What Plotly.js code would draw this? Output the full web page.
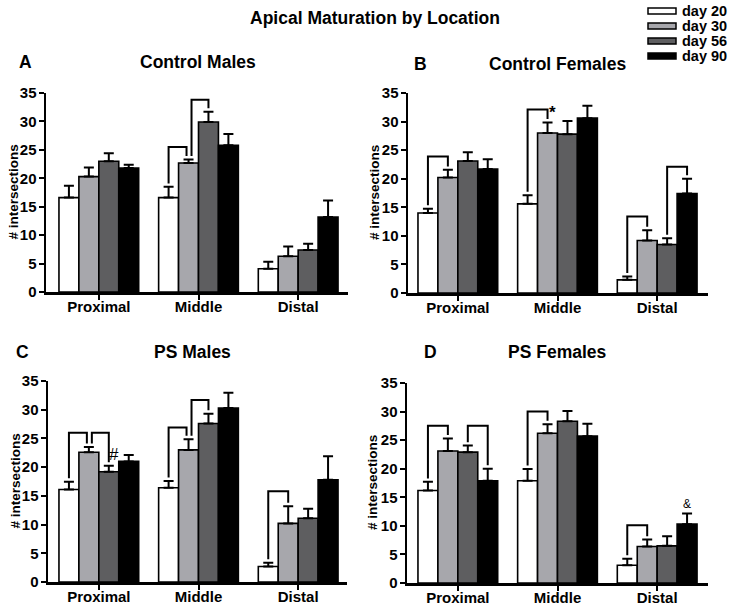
<!DOCTYPE html>
<html>
<head>
<meta charset="utf-8">
<script src="https://cdn.plot.ly/plotly-3.0.1.min.js"></script>
<style>html,body{margin:0;padding:0;background:#fff;}#chart{width:729px;height:607px;}</style>
</head>
<body>
<div id="chart"></div>
<script>
// ---- data ----
const categories = ['Proximal', 'Middle', 'Distal'];
const seriesNames = ['day 20', 'day 30', 'day 56', 'day 90'];
const seriesColors = ['#ffffff', '#a7a7ac', '#5e5e60', '#000000'];
const yTicks = [0, 5, 10, 15, 20, 25, 30, 35];
const yTitle = '# intersections';

// A: Control Males
const cmDay20 = [16.6, 16.6, 4.1];   const cmDay20Err = [2.1, 1.9, 1.2];
const cmDay30 = [20.3, 22.7, 6.3];   const cmDay30Err = [1.6, 0.6, 1.7];
const cmDay56 = [23.0, 29.9, 7.4];   const cmDay56Err = [1.4, 1.8, 1.1];
const cmDay90 = [21.8, 25.8, 13.2];  const cmDay90Err = [0.6, 2.0, 2.9];
// B: Control Females
const cfDay20 = [14.0, 15.6, 2.3];   const cfDay20Err = [0.75, 1.5, 0.6];
const cfDay30 = [20.2, 28.0, 9.2];   const cfDay30Err = [1.35, 1.85, 1.8];
const cfDay56 = [23.1, 27.8, 8.5];   const cfDay56Err = [1.55, 2.3, 1.1];
const cfDay90 = [21.7, 30.6, 17.4];  const cfDay90Err = [1.7, 2.15, 2.6];
// C: PS Males
const pmDay20 = [16.1, 16.4, 2.7];   const pmDay20Err = [1.35, 1.2, 0.65];
const pmDay30 = [22.6, 23.0, 10.2];  const pmDay30Err = [0.9, 1.85, 3.0];
const pmDay56 = [19.2, 27.6, 11.1];  const pmDay56Err = [1.05, 1.7, 1.65];
const pmDay90 = [21.0, 30.3, 17.8];  const pmDay90Err = [1.1, 2.65, 4.1];
// D: PS Females
const pfDay20 = [16.2, 17.9, 3.1];   const pfDay20Err = [1.5, 2.05, 1.15];
const pfDay30 = [23.1, 26.2, 6.4];   const pfDay30Err = [2.2, 1.6, 1.2];
const pfDay56 = [22.9, 28.3, 6.5];   const pfDay56Err = [1.15, 1.8, 1.7];
const pfDay90 = [17.9, 25.7, 10.3];  const pfDay90Err = [2.1, 2.15, 1.85];

// significance brackets: [category, from series, to series, bracket top]
const bracketsA = [['Middle', 0, 1, 25.5], ['Middle', 1, 2, 33.8]];
const bracketsB = [['Proximal', 0, 1, 23.9], ['Middle', 0, 1, 32.1], ['Distal', 0, 1, 13.4], ['Distal', 2, 3, 22.1]];
const bracketsC = [['Proximal', 0, 1, 26.0], ['Proximal', 1, 2, 26.0], ['Middle', 0, 1, 26.9], ['Middle', 1, 2, 31.7], ['Distal', 0, 1, 15.8]];
const bracketsD = [['Proximal', 0, 1, 27.5], ['Proximal', 2, 3, 27.5], ['Middle', 0, 1, 30.0], ['Distal', 0, 1, 10.1]];
// markers: [category, series, symbol]
const marksB = [['Middle', 1, '*']];
const marksC = [['Proximal', 2, '#']];
const marksD = [['Distal', 3, '&']];

const panelTitles = ['Control Males', 'Control Females', 'PS Males', 'PS Females'];
const panelLetters = ['A', 'B', 'C', 'D'];

// ---- layout geometry (pixels) ----
const W = 729, H = 607;
const FONT = 'Liberation Sans, Arial, Helvetica, sans-serif';
const px = x => x / W;
const py = y => 1 - y / H;

const panels = [
  {vals: [cmDay20, cmDay30, cmDay56, cmDay90], errs: [cmDay20Err, cmDay30Err, cmDay56Err, cmDay90Err], br: bracketsA, marks: [],
   x0: 46, x1: 348, yb: 292, yt: 93, xr: [-0.53, 2.5], tx: 198, ty: 62, lx: 25, ytx: 13},
  {vals: [cfDay20, cfDay30, cfDay56, cfDay90], errs: [cfDay20Err, cfDay30Err, cfDay56Err, cfDay90Err], br: bracketsB, marks: marksB,
   x0: 408, x1: 708, yb: 293, yt: 93, xr: [-0.5, 2.51], tx: 557, ty: 64, lx: 420, ytx: 374},
  {vals: [pmDay20, pmDay30, pmDay56, pmDay90], errs: [pmDay20Err, pmDay30Err, pmDay56Err, pmDay90Err], br: bracketsC, marks: marksC,
   x0: 48, x1: 347, yb: 582, yt: 381, xr: [-0.51, 2.49], tx: 193, ty: 352, lx: 22, ytx: 15},
  {vals: [pfDay20, pfDay30, pfDay56, pfDay90], errs: [pfDay20Err, pfDay30Err, pfDay56Err, pfDay90Err], br: bracketsD, marks: marksD,
   x0: 407, x1: 708, yb: 583, yt: 383, xr: [-0.51, 2.51], tx: 557, ty: 352, lx: 430, ytx: 372}
];

const BAR_W = 0.2;
const offset = s => (s - 1.5) * BAR_W;

const traces = [];
const shapes = [];
const annotations = [];
const layout = {
  width: W, height: H,
  margin: {l: 0, r: 0, t: 0, b: 0},
  paper_bgcolor: '#fff', plot_bgcolor: '#fff',
  barmode: 'group', bargap: 0.2, bargroupgap: 0,
  showlegend: false,
  font: {family: FONT, color: '#000'}
};

panels.forEach((p, i) => {
  const n = i === 0 ? '' : String(i + 1);
  const xa = 'x' + n, ya = 'y' + n;
  p.vals.forEach((v, s) => {
    traces.push({
      type: 'bar', x: categories, y: v, name: seriesNames[s],
      xaxis: xa, yaxis: ya,
      marker: {color: seriesColors[s], line: {color: '#000', width: 1.6}},
      error_y: {type: 'data', array: p.errs[s], arrayminus: v.map(() => 0), symmetric: false,
                color: '#000', thickness: 2, width: 5},
      hoverinfo: 'x+y+name'
    });
  });
  layout['xaxis' + n] = {
    domain: [px(p.x0), px(p.x1)], anchor: ya,
    type: 'category', categoryorder: 'array', categoryarray: categories,
    range: p.xr, showgrid: false, zeroline: false,
    showline: true, linecolor: '#000', linewidth: 2.5,
    ticks: 'outside', ticklen: 5, tickwidth: 2, tickcolor: '#000',
    ticklabelstandoff: -6,
    tickfont: {family: FONT, size: 15, weight: 'bold', color: '#000'},
    fixedrange: true
  };
  layout['yaxis' + n] = {
    domain: [py(p.yb), py(p.yt)], anchor: xa,
    range: [0, 35], tickvals: yTicks, showgrid: false, zeroline: false,
    showline: true, linecolor: '#000', linewidth: 2.5,
    ticks: 'outside', ticklen: 5, tickwidth: 2, tickcolor: '#000',
    ticklabelstandoff: -1,
    tickfont: {family: FONT, size: 15, weight: 'bold', color: '#000'},
    fixedrange: true
  };
  // y-axis title placed as rotated text beside the axis
  annotations.push({xref: 'paper', yref: 'paper', x: px(p.ytx), y: py((p.yb + p.yt) / 2), text: yTitle,
    textangle: -90, showarrow: false, xanchor: 'center', yanchor: 'middle',
    font: {family: FONT, size: 13.5, weight: 'bold', color: '#000'}});
  // brackets
  const errTop = (c, s) => p.vals[s][c] + p.errs[s][c];
  p.br.forEach(b => {
    const c = categories.indexOf(b[0]);
    const shareLeft = p.br.some(o => o !== b && o[0] === b[0] && o[2] === b[1]);
    const shareRight = p.br.some(o => o !== b && o[0] === b[0] && o[1] === b[2]);
    const xl = c + offset(b[1]) + (shareLeft ? 0.03 : 0);
    const xr = c + offset(b[2]) - (shareRight ? 0.02 : 0);
    const yl = errTop(c, b[1]) + 0.6;
    const yr = errTop(c, b[2]) + 0.6;
    shapes.push({type: 'path', xref: xa, yref: ya,
      path: `M ${xl} ${yl} L ${xl} ${b[3]} L ${xr} ${b[3]} L ${xr} ${yr}`,
      line: {color: '#000', width: 2}});
  });
  p.marks.forEach(m => {
    const c = categories.indexOf(m[0]);
    const sym = m[2];
    annotations.push({xref: xa, yref: ya, x: c + offset(m[1]), y: errTop(c, m[1]),
      text: sym, showarrow: false, yanchor: 'bottom',
      xshift: sym === '&' ? 0 : 5, yshift: sym === '*' ? -2 : (sym === '#' ? 0 : 1),
      font: {family: FONT, size: sym === '&' ? 12 : 17, weight: sym === '*' ? 'bold' : 'normal', color: '#000'}});
  });
  annotations.push({xref: 'paper', yref: 'paper', x: px(p.tx), y: py(p.ty), text: panelTitles[i],
    showarrow: false, xanchor: 'center', yanchor: 'middle',
    font: {family: FONT, size: 17.5, weight: 'bold', color: '#000'}});
  annotations.push({xref: 'paper', yref: 'paper', x: px(p.lx), y: py(p.ty), text: panelLetters[i],
    showarrow: false, xanchor: 'center', yanchor: 'middle',
    font: {family: FONT, size: 17.5, weight: 'bold', color: '#000'}});
});

// overall title
layout.title = {text: 'Apical Maturation by Location', x: px(375), xanchor: 'center', y: py(18), yanchor: 'middle',
  font: {family: FONT, size: 17.5, weight: 'bold', color: '#000'}};

// custom legend
const legRows = [11, 26, 41, 56];
seriesNames.forEach((nm, s) => {
  shapes.push({type: 'rect', xref: 'paper', yref: 'paper',
    x0: px(648), x1: px(676), y0: py(legRows[s] + 3), y1: py(legRows[s] - 3),
    fillcolor: seriesColors[s], line: {color: '#000', width: 1.5}});
  annotations.push({xref: 'paper', yref: 'paper', x: px(680), y: py(legRows[s]), text: nm,
    showarrow: false, xanchor: 'left', yanchor: 'middle',
    font: {family: FONT, size: 14.5, weight: 'bold', color: '#000'}});
});

layout.shapes = shapes;
layout.annotations = annotations;

Plotly.newPlot('chart', traces, layout, {displayModeBar: false, staticPlot: true});
</script>
</body>
</html>
